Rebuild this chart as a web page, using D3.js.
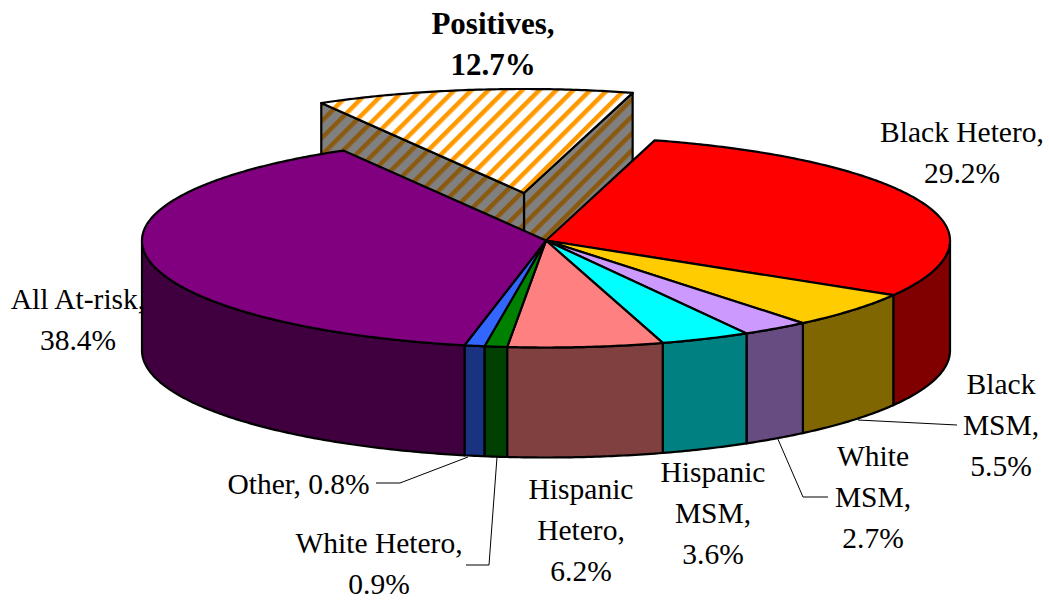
<!DOCTYPE html>
<html>
<head>
<meta charset="utf-8">
<script src="https://cdn.jsdelivr.net/npm/d3@7"></script>
<style>
  html, body { margin: 0; padding: 0; background: #fff; }
  text { font-family: "Liberation Serif", serif; font-size: 29.5px; fill: #000; }
  text.bold { font-size: 31px; font-weight: bold; }
</style>
</head>
<body>
<div class="graph_wrapper"></div>
<script>
var categories = ['Black Hetero', 'Black MSM', 'White MSM', 'Hispanic MSM', 'Hispanic Hetero', 'White Hetero', 'Other', 'All At-risk', 'Positives'];
var values = [29.2, 5.5, 2.7, 3.6, 6.2, 0.9, 0.8, 38.4, 12.7];
var valueLabels = ['29.2%', '5.5%', '2.7%', '3.6%', '6.2%', '0.9%', '0.8%', '38.4%', '12.7%'];

var topColors = ['#ff0000', '#ffcc00', '#cc99ff', '#00ffff', '#ff8080', '#008000', '#3366ff', '#800080', 'url(#stripeTop)'];
var wallColors = ['#800000', '#806600', '#664c80', '#008080', '#804040', '#004000', '#1a3380', '#400040', 'url(#stripeWall)'];

var width = 1049;
var height = 602;
var cx = 546;
var cy = 240.5;
var rx = 404;
var ryBack = 104;
var ryFront = 107;
var depth = 110;
var startDeg = 15.6;
var explode = { x: -22, y: -47.5 };

// label text lines and where they sit
var labelLines = [
  { lines: ['Black Hetero,', '29.2%'], x: 962, y: 142 },
  { lines: ['Black', 'MSM,', '5.5%'], x: 1001, y: 394 },
  { lines: ['White', 'MSM,', '2.7%'], x: 873, y: 466 },
  { lines: ['Hispanic', 'MSM,', '3.6%'], x: 713, y: 482 },
  { lines: ['Hispanic', 'Hetero,', '6.2%'], x: 581, y: 499 },
  { lines: ['White Hetero,', '0.9%'], x: 379, y: 553 },
  { lines: ['Other, 0.8%'], x: 298.5, y: 494 },
  { lines: ['All At-risk,', '38.4%'], x: 78, y: 309 },
  { lines: ['Positives,', '12.7%'], x: 493, y: 33.5, bold: true }
];

// leader lines
var leaders = [
  [[858, 420], [957, 425]],
  [[777, 437], [803, 497], [828, 497]],
  [[468, 457], [400, 483], [376, 483]],
  [[497, 457], [489, 565], [466, 565]]
];

var svg = d3.select('.graph_wrapper').append('svg').attr('width', width).attr('height', height).style('display', 'block');

var defs = svg.append('defs');
function stripes(id, bg, fg) {
  var p = defs.append('pattern').attr('id', id).attr('patternUnits', 'userSpaceOnUse').attr('width', 12).attr('height', 12).attr('patternTransform', 'rotate(45)');
  p.append('rect').attr('width', 12).attr('height', 12).attr('fill', bg);
  p.append('rect').attr('width', 4.5).attr('height', 12).attr('fill', fg);
}
stripes('stripeTop', '#fff', '#ff9900');
stripes('stripeWall', '#808080', '#8a5a10');

var pie = d3.pie().value(function (d) { return d; }).sort(null)
  .startAngle(startDeg * Math.PI / 180)
  .endAngle((startDeg + 360) * Math.PI / 180);
var slices = pie(values);

// pie angle (0 at top, clockwise) to a spot on the rim, flattened
var rimX = d3.scaleLinear().domain([-1, 1]).range([cx - rx, cx + rx]);
var rimY = d3.scaleLinear().domain([-1, 0, 1]).range([cy - ryBack, cy, cy + ryFront]);
function rim(a, dy) {
  return [rimX(Math.sin(a)), rimY(-Math.cos(a)) + (dy || 0)];
}
var line = d3.line();

function arcPoints(a0, a1, dy) {
  var n = Math.max(2, Math.ceil(Math.abs(a1 - a0) / 0.01));
  return d3.range(n + 1).map(function (i) { return rim(a0 + (a1 - a0) * i / n, dy); });
}

function topPath(d) {
  return line([[cx, cy]].concat(arcPoints(d.startAngle, d.endAngle))) + 'Z';
}

// only the front half of the rim has a visible wall
function wallPath(d) {
  var a0 = Math.max(d.startAngle, Math.PI / 2);
  var a1 = Math.min(d.endAngle, Math.PI * 3 / 2);
  if (a1 <= a0) return null;
  return line(arcPoints(a0, a1).concat(arcPoints(a1, a0, depth))) + 'Z';
}

function styleEdge(sel) {
  return sel.attr('stroke', '#000').attr('stroke-width', 2.2).attr('stroke-linejoin', 'round');
}

var main = slices.slice(0, 8);
var pulled = slices[8];

// the pulled-out slice goes first, the main pie paints over its lower part
var pulledG = svg.append('g').attr('transform', 'translate(' + explode.x + ',' + explode.y + ')');
[pulled.endAngle, pulled.startAngle].forEach(function (a) {
  var p = rim(a);
  styleEdge(pulledG.append('path')
    .attr('d', line([[cx, cy], p, [p[0], p[1] + depth], [cx, cy + depth]]) + 'Z')
    .attr('fill', wallColors[8]));
});
styleEdge(pulledG.append('path').attr('d', topPath(pulled)).attr('fill', topColors[8]));

var pieG = svg.append('g');
styleEdge(pieG.selectAll('.wall').data(main).enter().append('path')
  .attr('class', 'wall')
  .attr('d', wallPath)
  .attr('fill', function (d, i) { return wallColors[i]; }));
styleEdge(pieG.selectAll('.top').data(main).enter().append('path')
  .attr('class', 'top')
  .attr('d', topPath)
  .attr('fill', function (d, i) { return topColors[i]; }));

svg.append('g').selectAll('path').data(leaders).enter().append('path')
  .attr('d', function (d) { return line(d); })
  .attr('fill', 'none').attr('stroke', '#000').attr('stroke-width', 1);

var lineGap = 41;
var label = svg.append('g').selectAll('text').data(labelLines).enter().append('text')
  .attr('text-anchor', 'middle')
  .attr('class', function (d) { return d.bold ? 'bold' : null; });
label.selectAll('tspan').data(function (d) {
  return d.lines.map(function (t) { return { t: t, x: d.x, y: d.y }; });
}).enter().append('tspan')
  .attr('x', function (d) { return d.x; })
  .attr('y', function (d, i) { return d.y + i * lineGap; })
  .text(function (d) { return d.t; });
</script>
</body>
</html>
